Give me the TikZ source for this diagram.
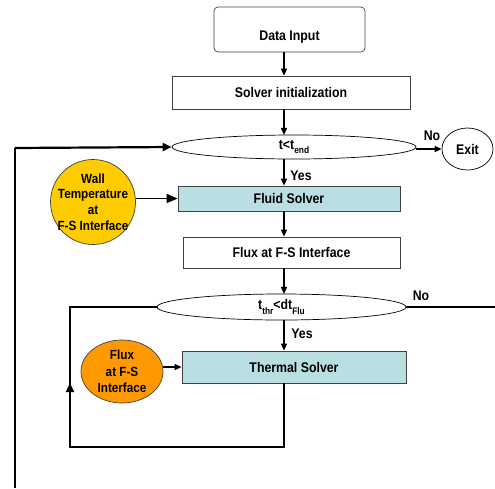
\documentclass[tikz,border=0pt]{standalone}
\usepackage{fontspec}
\setmainfont{Liberation Sans}[FakeStretch=0.88]
\usetikzlibrary{shapes.geometric,arrows.meta,calc}
\definecolor{cyanfill}{HTML}{B9DFE3}
\definecolor{goldfill}{HTML}{FFCC00}
\definecolor{orangefill}{HTML}{FF9900}
\definecolor{edgegray}{HTML}{404040}
\tikzset{
  box/.style={draw=edgegray, line width=0.7pt, inner sep=0pt, font=\fontsize{14}{16}\selectfont\bfseries},
  solverbox/.style={box, fill=cyanfill},
  oval/.style={draw=black, line width=0.7pt, ellipse, inner sep=0pt, font=\fontsize{14}{16}\selectfont\bfseries},
  circlabel/.style={draw=edgegray, line width=0.7pt, ellipse, inner sep=-10pt, align=center, font=\fontsize{13.3}{15.8}\selectfont\bfseries},
  conn/.style={line width=1.5pt, -{Triangle[length=7pt,width=6pt]}},
  bigconn/.style={line width=1.5pt, -{Triangle[length=11pt,width=9pt]}},
  loopline/.style={line width=2.2pt},
  looparrow/.style={line width=2.2pt, -{Triangle[length=9pt,width=8pt]}},
  lbl/.style={font=\fontsize{14}{16}\selectfont\bfseries, inner sep=0pt}
}
\begin{document}
\begin{tikzpicture}[x=1pt,y=-1pt]
\useasboundingbox (0,0) rectangle (495,488);
\coordinate (ax) at (284,0);
\node[box, rounded corners=4pt, minimum width=151pt, minimum height=45pt] (di) at (289.5,29.5) {\raisebox{-10.5pt}[0pt][0pt]{Data Input}};
\node[box, minimum width=238pt, minimum height=33pt] (si) at (291,92.5) {Solver initialization};
\node[oval, minimum width=244pt, minimum height=24pt] (e1) at (294,147) {t<t\raisebox{-0.55ex}{\fontsize{9.5}{10}\selectfont end}};
\node[oval, minimum width=51pt, minimum height=42pt] (exit) at (467.5,149) {Exit};
\node[solverbox, minimum width=222pt, minimum height=25pt] (fs) at (289,198.5) {Fluid Solver};
\node[circlabel, fill=goldfill, minimum width=85pt, minimum height=85pt] (wall) at (93,202) {Wall\\Temperature\\at\\F-S Interface};
\node[box, minimum width=217pt, minimum height=31pt] (flux) at (291.5,252.5) {Flux at F-S Interface};
\node[oval, minimum width=249pt, minimum height=26pt] (e2) at (281.5,307) {t\raisebox{-0.6ex}{\fontsize{9.5}{10}\selectfont thr}<dt\raisebox{-0.6ex}{\fontsize{9.5}{10}\selectfont Flu}};
\node[solverbox, minimum width=224pt, minimum height=32pt] (ts) at (294,367) {Thermal Solver};
\node[circlabel, fill=orangefill, minimum width=82pt, minimum height=63pt, font=\fontsize{13.3}{16.5}\selectfont\bfseries] (fo) at (122,371.5) {Flux\\at F-S\\Interface};
% labels
\node[lbl] (no1) at (432,136) {No};
\node[lbl] (yes1) at (301,175.5) {Yes};
\node[lbl] (no2) at (421,295.5) {No};
\node[lbl] (yes2) at (302,333.5) {Yes};
% coordinates
\coordinate (bl) at (15,488);
\coordinate (tl) at (15,148);
\coordinate (lb) at (284,447);
\coordinate (ll) at (70,447);
\coordinate (la) at (70,383);
\coordinate (lt) at (70,307);
\coordinate (re) at (495,307);
% connectors
\draw[conn] (di.south -| ax) -- (si.north -| ax);
\draw[conn] (si.south -| ax) -- ($(e1.north -| ax)+(0,0.3)$);
\draw[conn] ($(e1.south -| ax)+(0,-0.3)$) -- (fs.north -| ax);
\draw[conn] (fs.south -| ax) -- (flux.north -| ax);
\draw[conn] (flux.south -| ax) -- ($(e2.north -| ax)+(0,0.3)$);
\draw[conn] ($(e2.south -| ax)+(0,-0.3)$) -- (ts.north -| ax);
\draw[conn] (e1.east |- exit.west) -- (exit.west);
\draw[bigconn] (fs.west -| wall.east) -- (fs.west);
\draw[conn] (fo.east |- ts.west) -- (ts.west);
\draw[loopline] (bl) -- (tl);
\draw[looparrow] (tl) -- (e1.west);
\draw[line width=1.5pt] (e2.east) -- (re);
\draw[loopline] (ts.south -| ax) -- (lb) -- (ll) -- (la);
\draw[looparrow] (ll) -- (la);
\draw[loopline] (la) -- (lt) -- (e2.west);
\end{tikzpicture}
\end{document}
